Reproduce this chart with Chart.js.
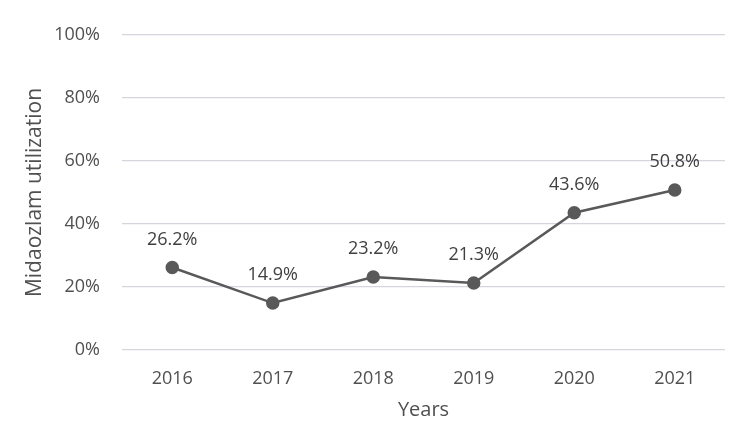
<!DOCTYPE html>
<html>
<head>
<meta charset="utf-8">
<script src="https://cdn.jsdelivr.net/npm/chart.js@4/dist/chart.umd.min.js"></script>
<style>
html,body{margin:0;padding:0;background:#fff;}
#wrap{width:750px;height:435px;}
</style>
</head>
<body>
<div id="wrap"><canvas id="c" width="750" height="435"></canvas></div>
<script>
const categories = ['2016','2017','2018','2019','2020','2021'];
const utilization = [26.2, 14.9, 23.2, 21.3, 43.6, 50.8];
const yTicks = [0, 20, 40, 60, 80, 100];

const FONT = "'Open Sans', 'Noto Sans', sans-serif";

const labelPlugin = {
  id: 'pointLabels',
  afterDatasetsDraw(chart) {
    const ctx = chart.ctx;
    const meta = chart.getDatasetMeta(0);
    ctx.save();
    ctx.font = "18px " + FONT;
    ctx.fillStyle = '#404040';
    ctx.textAlign = 'center';
    ctx.textBaseline = 'middle';
    meta.data.forEach((pt, i) => {
      ctx.fillText(utilization[i].toFixed(1) + '%', pt.x, pt.y - 28);
    });
    ctx.restore();
  }
};

new Chart(document.getElementById('c'), {
  type: 'line',
  data: {
    labels: categories,
    datasets: [{
      data: utilization,
      borderColor: '#595959',
      backgroundColor: '#595959',
      borderWidth: 2.5,
      pointRadius: 5.5,
      pointBackgroundColor: '#595959',
      pointBorderColor: '#595959',
      tension: 0
    }]
  },
  options: {
    responsive: false,
    animation: false,
    layout: { padding: { top: 35, right: 25, left: 0, bottom: 0 } },
    plugins: { legend: { display: false }, tooltip: { enabled: false } },
    scales: {
      x: {
        offset: true,
        grid: { display: false, drawTicks: false },
        border: { display: false },
        ticks: { color: '#505050', font: { family: FONT, size: 18 }, padding: 18 },
        title: { display: true, text: 'Years', color: '#505050', font: { family: FONT, size: 20 }, padding: { top: 0, bottom: 13 } },
        afterFit(s) { s.height = 85; }
      },
      y: {
        min: 0, max: 100,
        afterBuildTicks(s) { s.ticks = yTicks.map(v => ({ value: v })); },
        grid: { color: '#d5d5df', lineWidth: 1.3, drawTicks: false },
        border: { display: false },
        ticks: { color: '#505050', font: { family: FONT, size: 18 }, padding: 22, callback: v => v + '%' },
        title: { display: true, text: 'Midaozlam utilization', color: '#505050', font: { family: FONT, size: 21 }, padding: { top: 22, bottom: 0 } },
        afterFit(s) { s.width = 122; }
      }
    }
  },
  plugins: [labelPlugin]
});
</script>
</body>
</html>
